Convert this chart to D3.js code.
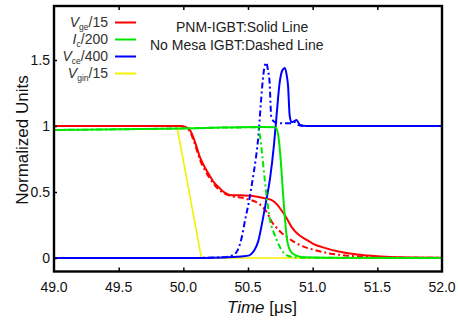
<!DOCTYPE html>
<html>
<head>
<meta charset="utf-8">
<script src="https://cdn.jsdelivr.net/npm/d3@7"></script>
<style>
  body { margin: 0; background: #fff; }
  svg { font-family: 'Liberation Sans', Arial, sans-serif; }
</style>
</head>
<body>
<svg id="chart" width="458" height="321"></svg>
<script>
// data: [time in us, normalized value]
const vgeSolid = [[49.0,1.0],[49.5,1.0],[49.98,1.0],[50.01,0.995],[50.05,0.97],[50.09,0.88],[50.13,0.76],[50.17,0.68],[50.2,0.63],[50.24,0.57],[50.28,0.53],[50.32,0.495],[50.36,0.478],[50.45,0.475],[50.55,0.468],[50.62,0.455],[50.68,0.44],[50.72,0.41],[50.76,0.36],[50.8,0.30],[50.84,0.23],[50.9,0.17],[50.95,0.14],[51.0,0.11],[51.1,0.075],[51.2,0.05],[51.3,0.032],[51.42,0.02],[51.6,0.008],[52.0,0.003]];
const vgeDashed = [[49.0,1.0],[49.98,1.0],[50.01,0.99],[50.05,0.96],[50.09,0.86],[50.13,0.74],[50.17,0.66],[50.2,0.61],[50.24,0.555],[50.28,0.515],[50.32,0.487],[50.36,0.472],[50.43,0.46],[50.5,0.445],[50.56,0.425],[50.61,0.39],[50.65,0.34],[50.68,0.28],[50.72,0.23],[50.76,0.19],[50.8,0.16],[50.86,0.12],[50.92,0.09],[51.0,0.065],[51.13,0.035],[51.25,0.02],[51.4,0.01],[51.6,0.004],[52.0,0.002]];
const icSolid = [[49.0,0.97],[49.5,0.975],[50.0,0.982],[50.3,0.988],[50.6,0.992],[50.71,0.99],[50.73,0.95],[50.75,0.78],[50.77,0.5],[50.79,0.25],[50.805,0.12],[50.83,0.05],[50.87,0.02],[50.93,0.006],[51.1,0.002],[52.0,0.0]];
const icDashed = [[49.0,0.97],[49.5,0.975],[50.0,0.982],[50.3,0.988],[50.57,0.99],[50.59,0.94],[50.61,0.78],[50.63,0.59],[50.65,0.42],[50.67,0.29],[50.7,0.19],[50.72,0.14],[50.76,0.06],[50.8,0.02],[50.85,0.008],[50.95,0.002],[52.0,0.0]];
const vceSolid = [[49.0,0.0],[50.0,0.0],[50.3,0.004],[50.45,0.012],[50.51,0.02],[50.53,0.035],[50.55,0.06],[50.58,0.13],[50.61,0.27],[50.64,0.43],[50.67,0.6],[50.7,0.85],[50.72,1.07],[50.745,1.33],[50.765,1.42],[50.785,1.44],[50.8,1.38],[50.81,1.3],[50.822,1.08],[50.836,1.03],[50.855,1.035],[50.875,1.045],[50.9,1.01],[50.95,1.0],[52.0,1.0]];
const vceDashed = [[49.0,0.0],[50.0,0.0],[50.3,0.005],[50.38,0.02],[50.42,0.06],[50.45,0.15],[50.48,0.3],[50.51,0.44],[50.535,0.59],[50.56,0.75],[50.58,0.92],[50.6,1.18],[50.62,1.4],[50.64,1.48],[50.655,1.42],[50.667,1.33],[50.68,1.07],[50.706,1.03],[50.77,1.02],[50.83,1.02],[50.86,1.03],[50.88,1.01],[50.92,1.0],[52.0,1.0]];
const vgin = [[49.0,1.0],[49.95,1.0],[50.14,0.0],[52.0,0.0]];

const xTicks = [49.0, 49.5, 50.0, 50.5, 51.0, 51.5, 52.0];
const yTicks = [0, 0.5, 1, 1.5];
const yTickLabels = ['0', '0.5', '1', '1.5'];

const legendMain = ['V', 'I', 'V', 'V'];
const legendSub = ['ge', 'c', 'ce', 'gin'];
const legendTail = ['/15', '/200', '/400', '/15'];
const colors = ['#ff0000', '#00e600', '#0000ff', '#f2f200'];

const pLeft = 54, pRight = 442, pTop = 6, pBottom = 271.5;

const svg = d3.select('#chart');

const x = d3.scaleLinear().domain([49, 52]).range([pLeft, pRight]);
const y = d3.scaleLinear().domain([-0.102, 1.909]).range([pBottom, pTop]);

svg.append('clipPath').attr('id', 'clip')
  .append('rect')
  .attr('x', pLeft).attr('y', pTop)
  .attr('width', pRight - pLeft).attr('height', pBottom - pTop);

const smooth = d3.line()
  .x(d => x(d[0]))
  .y(d => y(d[1]))
  .curve(d3.curveMonotoneX);

const straight = d3.line()
  .x(d => x(d[0]))
  .y(d => y(d[1]));

const plot = svg.append('g').attr('clip-path', 'url(#clip)');

// draw order: yellow, red, blue, green
const series = [
  { data: vgin, color: colors[3], dash: null, w: 1.6, gen: straight },
  { data: vgeDashed, color: colors[0], dash: '6,3,2,3', w: 2, gen: smooth },
  { data: vgeSolid, color: colors[0], dash: null, w: 2, gen: smooth },
  { data: vceDashed, color: colors[2], dash: '6,3,2,3', w: 2, gen: smooth },
  { data: vceSolid, color: colors[2], dash: null, w: 2, gen: smooth },
  { data: icDashed, color: colors[1], dash: '6,3,2,3', w: 2, gen: smooth },
  { data: icSolid, color: colors[1], dash: null, w: 2, gen: smooth }
];

plot.selectAll('path.series')
  .data(series)
  .enter()
  .append('path')
  .attr('class', 'series')
  .attr('d', s => s.gen(s.data))
  .attr('fill', 'none')
  .attr('stroke', s => s.color)
  .attr('stroke-width', s => s.w)
  .attr('stroke-dasharray', s => s.dash)
  .attr('stroke-linejoin', 'round');

// axes (inward ticks)
const inner = xTicks.slice(1, -1);

svg.append('g')
  .attr('transform', `translate(0, ${pBottom})`)
  .call(d3.axisBottom(x).tickValues(inner).tickSize(-4).tickFormat(''))
  .call(g => g.select('.domain').remove())
  .selectAll('line').attr('stroke-width', 1.5);

svg.append('g')
  .attr('transform', `translate(0, ${pTop})`)
  .call(d3.axisTop(x).tickValues(inner).tickSize(-4).tickFormat(''))
  .call(g => g.select('.domain').remove())
  .selectAll('line').attr('stroke-width', 1.5);

svg.append('g')
  .attr('transform', `translate(${pLeft}, 0)`)
  .call(d3.axisLeft(y).tickValues(yTicks).tickSize(-3).tickFormat(''))
  .call(g => g.select('.domain').remove())
  .selectAll('line').attr('stroke-width', 1.5);

svg.append('rect')
  .attr('x', pLeft).attr('y', pTop)
  .attr('width', pRight - pLeft).attr('height', pBottom - pTop)
  .attr('fill', 'none')
  .attr('stroke', '#000')
  .attr('stroke-width', 2.4);

// tick labels
svg.selectAll('text.xt')
  .data(xTicks)
  .enter()
  .append('text')
  .attr('class', 'xt')
  .attr('x', d => x(d))
  .attr('y', 292)
  .attr('text-anchor', 'middle')
  .attr('font-size', 14)
  .attr('fill', '#111')
  .text(d => d.toFixed(1));

svg.selectAll('text.yt')
  .data(yTicks)
  .enter()
  .append('text')
  .attr('class', 'yt')
  .attr('x', 50)
  .attr('y', d => y(d) + 5)
  .attr('text-anchor', 'end')
  .attr('font-size', 14)
  .attr('fill', '#111')
  .text((d, i) => yTickLabels[i]);

// axis titles
const xt = svg.append('text')
  .attr('x', 262)
  .attr('y', 313)
  .attr('text-anchor', 'middle')
  .attr('font-size', 17)
  .attr('fill', '#111');
xt.append('tspan').attr('font-style', 'italic').text('Time');
xt.append('tspan').text(' [μs]');

svg.append('text')
  .attr('transform', 'translate(28, 140) rotate(-90)')
  .attr('text-anchor', 'middle')
  .attr('font-size', 17)
  .attr('fill', '#111')
  .text('Normalized Units');

// legend
const baselines = [27, 44, 61, 78];
legendMain.forEach((m, i) => {
  const t = svg.append('text')
    .attr('x', 108)
    .attr('y', baselines[i])
    .attr('text-anchor', 'end')
    .attr('font-size', 14)
    .attr('fill', '#333');
  t.append('tspan').attr('font-style', 'italic').text(m);
  t.append('tspan').attr('font-size', 8.5).attr('dy', 3).text(legendSub[i]);
  t.append('tspan').attr('dy', -3).text(legendTail[i]);
  svg.append('line')
    .attr('x1', 115).attr('x2', 136)
    .attr('y1', baselines[i] - 4.5).attr('y2', baselines[i] - 4.5)
    .attr('stroke', colors[i])
    .attr('stroke-width', 2);
});

svg.append('text')
  .attr('x', 176).attr('y', 32)
  .attr('font-size', 14).attr('fill', '#222')
  .text('PNM-IGBT:Solid Line');

svg.append('text')
  .attr('x', 150).attr('y', 50)
  .attr('font-size', 14).attr('fill', '#222')
  .text('No Mesa IGBT:Dashed Line');
</script>
</body>
</html>
